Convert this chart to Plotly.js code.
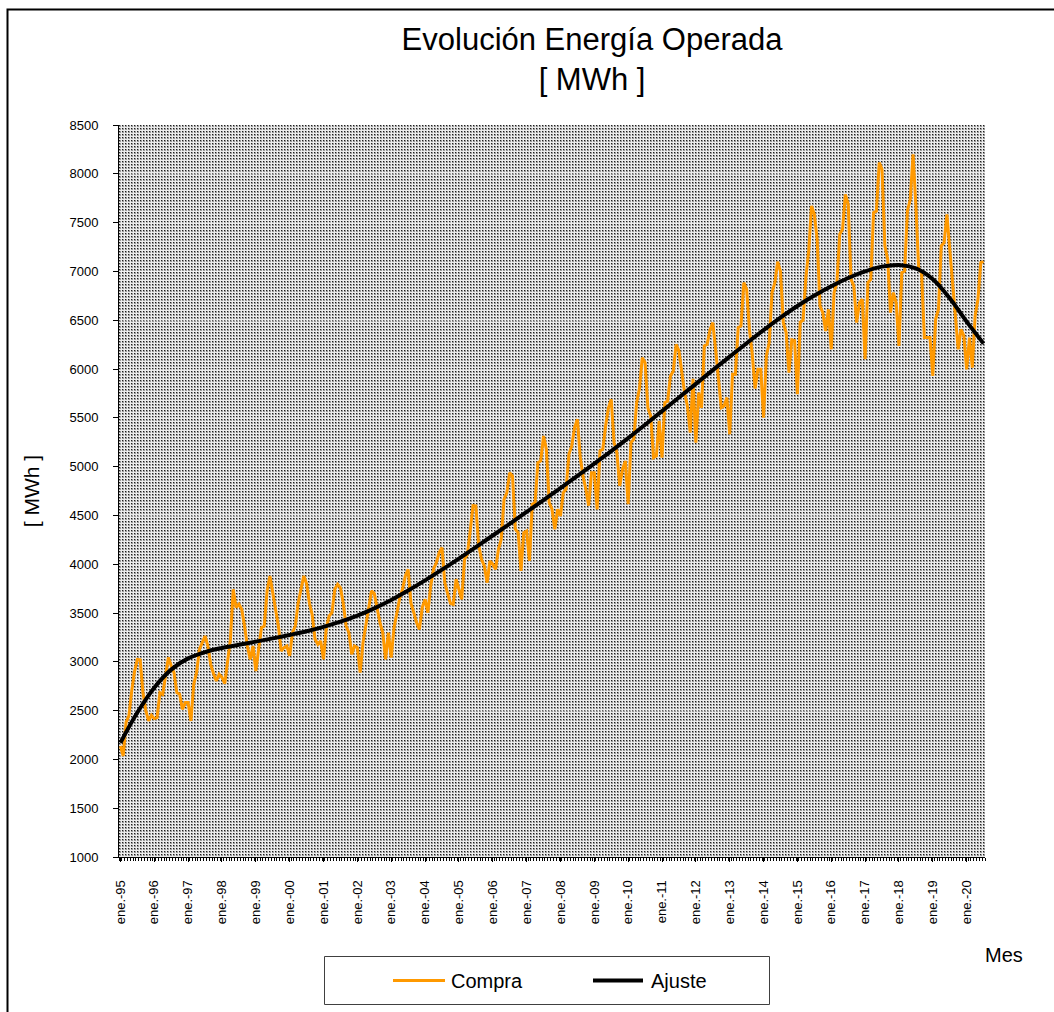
<!DOCTYPE html>
<html>
<head>
<meta charset="utf-8">
<script src="https://cdn.plot.ly/plotly-3.0.1.min.js"></script>
<style>
  html, body { margin: 0; padding: 0; background: #ffffff; }
  #chart { width: 1054px; height: 1012px; }
</style>
</head>
<body>
<div id="chart"></div>
<script>
// Monthly energy purchased (MWh), Jan-1995 .. Jul-2020
const compra = [
  2137, 2035, 2380, 2445, 2700, 2900, 3025, 3020, 2684, 2500, 2394, 2452, // 1995
  2418, 2428, 2684, 2667, 2855, 3043, 2960, 2889, 2684, 2667, 2513, 2582, // 1996
  2582, 2394, 2770, 2889, 3128, 3200, 3264, 3162, 2974, 2880, 2803, 2872, // 1997
  2840, 2777, 3000, 3230, 3743, 3555, 3590, 3538, 3367, 3162, 3025, 3162, // 1998
  2906, 3162, 3350, 3367, 3725, 3879, 3709, 3550, 3367, 3111, 3145, 3162, // 1999
  3060, 3299, 3367, 3600, 3725, 3880, 3800, 3600, 3480, 3230, 3179, 3213, // 2000
  3025, 3350, 3470, 3504, 3743, 3794, 3760, 3600, 3367, 3299, 3077, 3162, // 2001
  3145, 2889, 3197, 3367, 3572, 3726, 3700, 3550, 3400, 3299, 3026, 3299, // 2002
  3043, 3350, 3504, 3650, 3743, 3880, 3948, 3600, 3504, 3400, 3333, 3555, // 2003
  3640, 3504, 3777, 3948, 4016, 4119, 4170, 3811, 3700, 3600, 3589, 3846, // 2004
  3743, 3640, 4050, 4101, 4341, 4600, 4597, 4200, 4050, 3982, 3811, 4033, // 2005
  4000, 3948, 4150, 4255, 4665, 4733, 4938, 4904, 4358, 4324, 3931, 4324, // 2006
  4341, 4033, 4614, 4631, 5041, 5058, 5314, 5177, 4631, 4563, 4358, 4563, // 2007
  4494, 4733, 4768, 5126, 5211, 5400, 5485, 5100, 4900, 4768, 4600, 4938, // 2008
  4938, 4562, 5160, 5177, 5416, 5600, 5690, 5246, 5143, 4802, 4973, 5058, // 2009
  4614, 5246, 5280, 5655, 5800, 6116, 6065, 5600, 5519, 5092, 5109, 5468, // 2010
  5092, 5655, 5672, 5929, 5980, 6253, 6185, 5950, 5758, 5621, 5348, 5900, // 2011
  5246, 5758, 5600, 6236, 6253, 6400, 6475, 6200, 5900, 5604, 5621, 5707, // 2012
  5331, 5946, 5946, 6424, 6441, 6885, 6817, 6400, 6150, 5800, 5997, 5997, // 2013
  5502, 6134, 6270, 6782, 6885, 7100, 7000, 6475, 6373, 5963, 6300, 6290, // 2014
  5741, 6480, 6500, 6936, 7209, 7671, 7585, 7329, 6646, 6578, 6390, 6612, // 2015
  6202, 6783, 6885, 7380, 7431, 7790, 7687, 6919, 6851, 6475, 6680, 6714, // 2016
  6100, 6885, 6919, 7602, 7619, 8114, 8046, 7261, 7124, 6578, 6783, 6680, // 2017
  6236, 6987, 7004, 7619, 7739, 8200, 7671, 7022, 6987, 6322, 6322, 6322, // 2018
  5929, 6509, 6612, 7261, 7295, 7585, 7227, 6885, 6578, 6202, 6407, 6339, // 2019
  5997, 6322, 6014, 6544, 6714, 7090, 7100                                // 2020
];

// Trend line ("Ajuste") read every 6 months (month index from Jan-1995)
const ajusteMes = [
  0, 6, 12, 18, 24, 30, 36, 42, 48, 54, 60, 66, 72, 78, 84, 90, 96, 102,
  108, 114, 120, 126, 132, 138, 144, 150, 156, 162, 168, 174, 180, 186, 192,
  198, 204, 210, 216, 222, 228, 234, 240, 246, 252, 258, 264, 270, 276, 282,
  288, 294, 300, 306
];
const ajuste = [
  2170, 2480, 2735, 2920, 3035, 3100, 3142, 3175, 3207, 3240, 3275, 3313,
  3358, 3411, 3474, 3548, 3634, 3730, 3834, 3944, 4058, 4175, 4294, 4414,
  4535, 4657, 4780, 4904, 5030, 5159, 5292, 5429, 5568, 5708, 5848, 5988,
  6127, 6264, 6398, 6526, 6645, 6752, 6848, 6932, 7001, 7049, 7066, 7030,
  6920, 6725, 6485, 6260
];

// Axis tick labels (every January)
const tickMes = [0, 12, 24, 36, 48, 60, 72, 84, 96, 108, 120, 132, 144, 156, 168, 180, 192, 204, 216, 228, 240, 252, 264, 276, 288, 300];
const tickTexto = ['ene.-95','ene.-96','ene.-97','ene.-98','ene.-99','ene.-00','ene.-01','ene.-02','ene.-03','ene.-04','ene.-05','ene.-06','ene.-07','ene.-08','ene.-09','ene.-10','ene.-11','ene.-12','ene.-13','ene.-14','ene.-15','ene.-16','ene.-17','ene.-18','ene.-19','ene.-20'];

const serieNombres = ['Compra', 'Ajuste'];
const serieColores = ['#FF9900', '#000000'];

const mesIdx = compra.map((_, i) => i);

const FONT = 'Arial, "Liberation Sans", sans-serif';

// plot-area geometry (pixels) used to place paper-referenced decorations
const L = 119, T = 125, PW = 866, PH = 732;
const px = v => (v - L) / PW;
const py = v => (T + PH - v) / PH;

// dotted background pattern of the plot area
const patternSvg =
  "<svg xmlns='http://www.w3.org/2000/svg' width='" + PW + "' height='" + PH + "'>" +
  "<defs><pattern id='p' width='3' height='3' patternUnits='userSpaceOnUse'>" +
  "<rect width='3' height='3' fill='#ececec'/>" +
  "<rect width='2' height='2' fill='#999999'/>" +
  "<rect width='1' height='1' fill='#1e1e1e'/>" +
  "</pattern></defs><rect width='" + PW + "' height='" + PH + "' fill='url(#p)'/></svg>";
const patternUri = 'data:image/svg+xml;base64,' + btoa(patternSvg);

const traces = [
  {
    x: mesIdx, y: compra, type: 'scatter', mode: 'lines', name: serieNombres[0],
    line: { color: serieColores[0], width: 3 }
  },
  {
    x: ajusteMes, y: ajuste, type: 'scatter', mode: 'lines', name: serieNombres[1],
    line: { color: serieColores[1], width: 4, shape: 'spline', smoothing: 1 }
  }
];

const legY = py(980.5);

const layout = {
  width: 1054, height: 1012,
  margin: { l: 119, r: 69, t: 125, b: 155 },
  paper_bgcolor: '#ffffff',
  plot_bgcolor: 'rgba(0,0,0,0)',
  font: { family: FONT, color: '#000000' },
  title: {
    text: 'Evolución Energía Operada<br>[ MWh ]',
    font: { family: FONT, size: 31, color: '#000000' },
    xref: 'container', x: 0.5617, xanchor: 'center',
    yref: 'container', y: 0.951, yanchor: 'top'
  },
  xaxis: {
    range: [-0.5, 306.5],
    tickmode: 'array', tickvals: tickMes, ticktext: tickTexto,
    tickangle: -90,
    tickfont: { family: FONT, size: 13, color: '#000000' },
    ticks: 'outside', ticklen: 4, tickcolor: '#000000', tickwidth: 1,
    minor: { tickmode: 'linear', tick0: -0.5, dtick: 1, ticks: 'outside', ticklen: 3, tickcolor: '#000000', tickwidth: 1, showgrid: false },
    ticklabelstandoff: 13,
    showline: true, linecolor: '#000000', linewidth: 1,
    showgrid: false, zeroline: false, fixedrange: true
  },
  yaxis: {
    range: [1000, 8500], tickmode: 'linear', tick0: 1000, dtick: 500,
    tickfont: { family: FONT, size: 13, color: '#000000' },
    ticks: 'outside', ticklen: 5, tickcolor: '#000000', tickwidth: 1,
    ticklabelstandoff: 12,
    showline: true, linecolor: '#000000', linewidth: 1,
    showgrid: true, gridcolor: 'rgba(255,255,255,0.3)', gridwidth: 1,
    zeroline: false, fixedrange: true,
    title: { text: '[ MWh ]', font: { family: FONT, size: 21, color: '#000000' }, standoff: 24 }
  },
  showlegend: false,
  annotations: [
    {
      text: 'Mes', xref: 'paper', yref: 'paper',
      x: 1.022, y: -0.134, xanchor: 'center', yanchor: 'middle',
      showarrow: false, font: { family: FONT, size: 20, color: '#000000' }
    },
    {
      text: serieNombres[0], xref: 'paper', yref: 'paper',
      x: px(449), y: legY, xanchor: 'left', yanchor: 'middle',
      showarrow: false, font: { family: FONT, size: 20, color: '#000000' }
    },
    {
      text: serieNombres[1], xref: 'paper', yref: 'paper',
      x: px(649), y: legY, xanchor: 'left', yanchor: 'middle',
      showarrow: false, font: { family: FONT, size: 20, color: '#000000' }
    }
  ],
  images: [
    {
      source: patternUri, xref: 'paper', yref: 'paper',
      x: 0, y: 1, sizex: 1, sizey: 1, sizing: 'stretch',
      xanchor: 'left', yanchor: 'top', layer: 'below'
    }
  ],
  shapes: [
    // outer chart frame
    {
      type: 'rect', xref: 'paper', yref: 'paper',
      x0: px(7.5), x1: 1.3, y0: -0.4, y1: py(9.5),
      line: { color: '#000000', width: 2 }, fillcolor: 'rgba(0,0,0,0)', layer: 'above'
    },
    // legend box
    {
      type: 'rect', xref: 'paper', yref: 'paper',
      x0: px(324.5), x1: px(769.5), y0: py(1004.5), y1: py(956.5),
      line: { color: '#404040', width: 1 }, fillcolor: '#ffffff', layer: 'above'
    },
    // legend symbols
    {
      type: 'line', xref: 'paper', yref: 'paper',
      x0: px(393), x1: px(445), y0: legY, y1: legY,
      line: { color: serieColores[0], width: 3 }, layer: 'above'
    },
    {
      type: 'line', xref: 'paper', yref: 'paper',
      x0: px(593), x1: px(643), y0: legY, y1: legY,
      line: { color: serieColores[1], width: 4 }, layer: 'above'
    }
  ]
};

Plotly.newPlot('chart', traces, layout, { displayModeBar: false, staticPlot: true });
</script>
</body>
</html>
